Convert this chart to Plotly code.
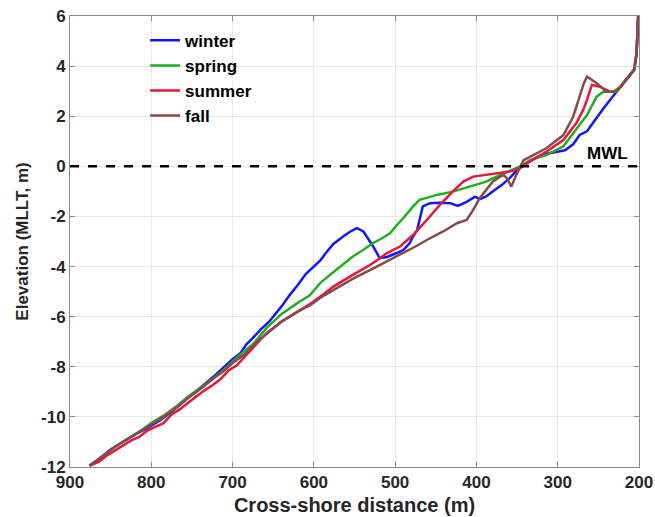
import plotly.graph_objects as go

winter_x = [876, 865, 850, 835, 820, 805, 790, 775, 760, 745, 730, 720, 710, 700, 690, 683, 675, 665, 655, 650,
            640, 630, 620, 610, 600, 592, 585, 576, 564, 555, 547, 539, 533, 527, 519, 510, 498, 490, 482, 478,
            473, 469, 466, 457, 445, 432, 423, 412, 402, 395, 388, 380, 369, 359, 352, 346, 334, 325, 314, 300,
            291, 281, 273, 264, 252, 244, 232, 222, 215, 206, 203, 201]
winter_y = [-11.95, -11.7, -11.3, -11.0, -10.7, -10.45, -10.15, -9.8, -9.4, -9.0, -8.6, -8.3, -8.0, -7.7, -7.45, -7.1,
            -6.85, -6.5, -6.2, -6.0, -5.6, -5.15, -4.75, -4.3, -4.0, -3.75, -3.45, -3.1, -2.8, -2.6, -2.47, -2.6,
            -2.9, -3.2, -3.66, -3.62, -3.46, -3.34, -3.06, -2.8, -2.55, -2.0, -1.6, -1.47, -1.45, -1.47, -1.58,
            -1.42, -1.22, -1.3, -1.2, -1.0, -0.75, -0.47, -0.21, 0.0, 0.2, 0.38, 0.5, 0.58, 0.64, 0.88, 1.25,
            1.4, 1.95, 2.3, 2.8, 3.2, 3.45, 3.85, 4.5, 6.0]

spring_x = [876, 860, 845, 830, 815, 800, 785, 770, 755, 740, 725, 710, 700, 690, 675, 658, 640, 620, 605, 592,
            575, 552, 540, 527, 515, 506, 498, 490, 478, 470, 460, 449, 429, 408, 388, 371, 358, 346, 334, 314,
            293, 281, 264, 252, 244, 232, 222, 215, 206, 203, 201]
spring_y = [-11.95, -11.6, -11.2, -10.9, -10.6, -10.25, -9.95, -9.6, -9.2, -8.85, -8.5, -8.1, -7.8, -7.5, -7.1,
            -6.45, -5.9, -5.45, -5.15, -4.65, -4.2, -3.6, -3.35, -3.06, -2.85, -2.66, -2.35, -2.07, -1.6, -1.34,
            -1.25, -1.14, -1.01, -0.81, -0.61, -0.34, -0.15, 0.0, 0.25, 0.45, 0.8, 1.3, 2.05, 2.78, 2.98, 2.98,
            3.2, 3.5, 3.85, 4.5, 6.0]

summer_x = [876, 865, 855, 845, 835, 825, 815, 805, 795, 785, 775, 765, 755, 745, 735, 725, 715, 705, 695, 685,
            675, 658, 640, 620, 605, 590, 576, 552, 531, 520, 510, 494, 478, 461, 445, 429, 416, 404, 380, 359,
            346, 334, 314, 293, 277, 268, 264, 258, 248, 236, 228, 222, 215, 206, 203, 201]
summer_y = [-11.95, -11.8, -11.55, -11.35, -11.15, -10.95, -10.8, -10.55, -10.4, -10.25, -9.9, -9.7, -9.45, -9.2,
            -8.95, -8.75, -8.5, -8.15, -7.95, -7.6, -7.25, -6.65, -6.2, -5.8, -5.5, -5.15, -4.8, -4.33, -3.94,
            -3.7, -3.46, -3.2, -2.74, -2.14, -1.54, -1.0, -0.61, -0.41, -0.3, -0.21, -0.07, 0.2, 0.58, 1.05,
            1.73, 2.3, 2.65, 3.25, 3.18, 2.98, 2.98, 3.2, 3.5, 3.85, 4.5, 6.0]

fall_x = [876, 860, 845, 830, 815, 800, 785, 770, 755, 740, 725, 710, 700, 685, 670, 655, 640, 620, 605, 590,
          568, 550, 531, 510, 490, 475, 461, 441, 424, 412, 404, 396, 388, 380, 371, 366, 362, 357, 351, 346,
          342, 314, 293, 281, 273, 268, 264, 252, 240, 228, 222, 215, 206, 203, 201]
fall_y = [-11.95, -11.55, -11.2, -10.9, -10.6, -10.3, -10.0, -9.65, -9.25, -8.9, -8.5, -8.15, -7.85, -7.5, -7.0,
          -6.6, -6.2, -5.8, -5.55, -5.2, -4.8, -4.45, -4.14, -3.8, -3.46, -3.2, -2.94, -2.6, -2.27, -2.14, -1.74,
          -1.27, -0.94, -0.61, -0.41, -0.35, -0.5, -0.81, -0.34, 0.0, 0.25, 0.72, 1.25, 1.98, 2.78, 3.3, 3.58,
          3.32, 2.98, 2.98, 3.2, 3.5, 3.85, 4.5, 6.0]

x_ticks = [900, 800, 700, 600, 500, 400, 300, 200]
y_ticks = [-12, -10, -8, -6, -4, -2, 0, 2, 4, 6]
mwl_level = 0

FONT = "Arial, Liberation Sans, sans-serif"

fig = go.Figure()
series = [
    ("winter", winter_x, winter_y, "#1414ff"),
    ("spring", spring_x, spring_y, "#1fb01f"),
    ("summer", summer_x, summer_y, "#e8163c"),
    ("fall", fall_x, fall_y, "#874a4a"),
]
for name, xs, ys, col in series:
    fig.add_trace(go.Scatter(x=xs, y=ys, mode="lines", name=f"<b>{name}</b>",
                             line=dict(color=col, width=2.5)))

fig.add_shape(type="line", xref="paper", yref="y", x0=0, x1=1, y0=mwl_level, y1=mwl_level,
              line=dict(color="black", width=2.5, dash="dash"))
fig.add_annotation(x=239, y=mwl_level, yshift=13, text="<b>MWL</b>", showarrow=False,
                   font=dict(family=FONT, size=17, color="black"))

axis_common = dict(showgrid=True, gridcolor="#e6e6e6", gridwidth=1, zeroline=False,
                   showline=True, linecolor="#8c8c8c", linewidth=1, mirror="ticks",
                   ticks="inside", ticklen=5, tickcolor="#8c8c8c", automargin=False,
                   tickfont=dict(family=FONT, size=17, color="#262626"))

fig.update_layout(
    width=655, height=517,
    margin=dict(l=70, r=16, t=16, b=50),
    paper_bgcolor="white", plot_bgcolor="white",
    showlegend=True,
    legend=dict(x=0.132, y=0.985, xanchor="left", yanchor="top", bgcolor="rgba(0,0,0,0)",
                font=dict(family=FONT, size=17, color="black"), tracegroupgap=0),
    xaxis=dict(range=[900, 200], tickvals=x_ticks,
               ticklabelstandoff=0,
               title=dict(text="<b>Cross-shore distance (m)</b>", standoff=6,
                          font=dict(family=FONT, size=20, color="#262626")),
               **axis_common),
    yaxis=dict(range=[-12, 6], tickvals=y_ticks,
               title=dict(text="<b>Elevation (MLLT, m)</b>", standoff=8,
                          font=dict(family=FONT, size=17, color="#262626")),
               **axis_common),
)
fig.update_xaxes(ticktext=[f"<b>{v}</b>" for v in x_ticks])
fig.update_yaxes(ticktext=[f"<b>{v}</b>" for v in y_ticks])

fig.write_html("out.html")
